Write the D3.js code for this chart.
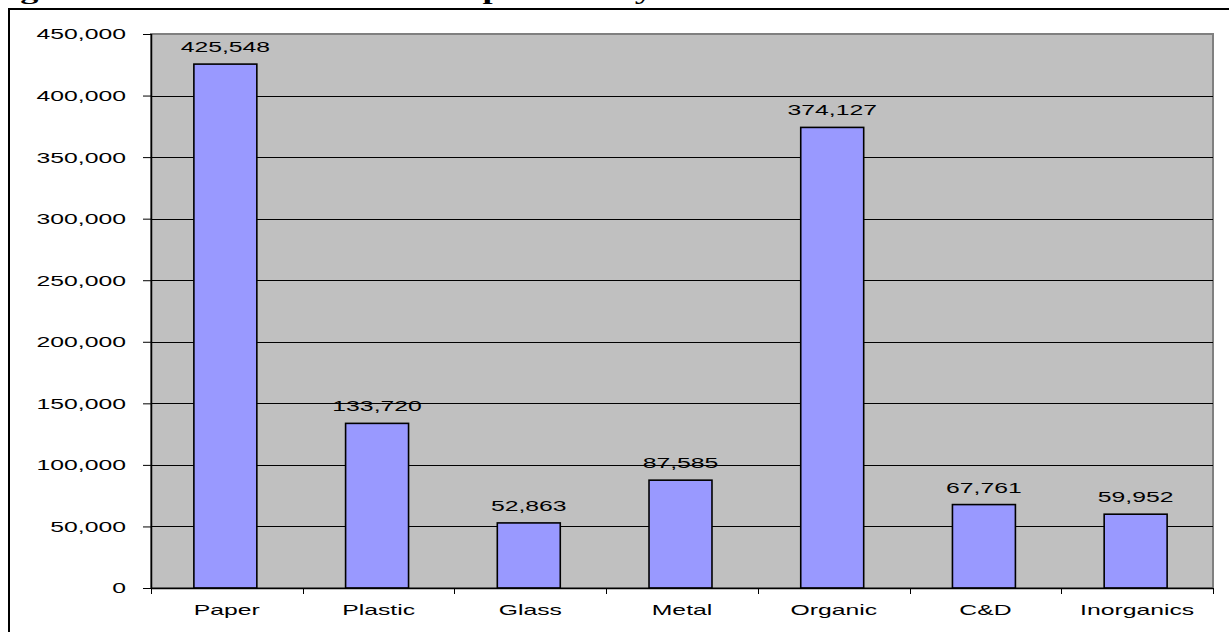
<!DOCTYPE html>
<html>
<head>
<meta charset="utf-8">
<script src="https://cdn.jsdelivr.net/npm/d3@7"></script>
<style>
  html, body { margin: 0; padding: 0; background: #fff; overflow: hidden; }
  svg { display: block; }
</style>
</head>
<body>
<svg id="chart" width="1229" height="632"></svg>
<script>
const categories = ["Paper", "Plastic", "Glass", "Metal", "Organic", "C&D", "Inorganics"];
const values = [425548, 133720, 52863, 87585, 374127, 67761, 59952];
const yTicks = [0, 50000, 100000, 150000, 200000, 250000, 300000, 350000, 400000, 450000];
const titleText = "Figure 4: Estimated Waste Composition by Material";

const W = 1229, H = 632;
const plot = { left: 151, right: 1213, top: 34, bottom: 588 };
const SX = 1.65; // horizontal stretch of the text in the reference
const fontFam = "Arial, 'Liberation Sans', sans-serif";

const svg = d3.select("#chart");

// Title (mostly cut off at top, as in the reference)
svg.append("text")
  .attr("transform", `translate(-12,-1) scale(${SX},1)`)
  .attr("font-family", "'Times New Roman', 'Liberation Serif', serif")
  .attr("font-weight", "bold")
  .attr("font-size", 22)
  .attr("fill", "#000")
  .text(titleText);

// Outer frame (extends off right/bottom)
svg.append("rect")
  .attr("x", 9).attr("y", 9)
  .attr("width", W + 20).attr("height", H + 20)
  .attr("fill", "none").attr("stroke", "#000").attr("stroke-width", 2);

const x = d3.scaleBand().domain(categories).range([plot.left, plot.right]).padding(0);
const y = d3.scaleLinear().domain([0, 450000]).range([plot.bottom, plot.top]);

// Plot background
svg.append("rect")
  .attr("x", plot.left).attr("y", plot.top)
  .attr("width", plot.right - plot.left).attr("height", plot.bottom - plot.top)
  .attr("fill", "#C0C0C0").attr("stroke", "#808080").attr("stroke-width", 2);

// Gridlines
svg.append("g").selectAll("line")
  .data(yTicks.filter(d => d > 0))
  .join("line")
  .attr("x1", plot.left).attr("x2", plot.right)
  .attr("y1", d => Math.round(y(d)) + 0.5).attr("y2", d => Math.round(y(d)) + 0.5)
  .attr("stroke", d => d === 450000 ? "#808080" : "#000")
  .attr("stroke-width", 1);

// Bars
const barFrac = 0.415;
svg.append("g").selectAll("rect")
  .data(categories)
  .join("rect")
  .attr("x", d => x(d) + x.bandwidth() * (1 - barFrac) / 2 - 1.5)
  .attr("width", x.bandwidth() * barFrac)
  .attr("y", (d, i) => y(values[i]))
  .attr("height", (d, i) => y(0) - y(values[i]))
  .attr("fill", "#9999FF")
  .attr("stroke", "#000")
  .attr("stroke-width", 1.6);

// Data labels
svg.append("g").selectAll("text")
  .data(categories)
  .join("text")
  .attr("transform", (d, i) => `translate(${x(d) + x.bandwidth() / 2 - 1.5},${y(values[i]) - 12}) scale(${SX},1)`)
  .attr("text-anchor", "middle")
  .attr("font-family", fontFam)
  .attr("font-size", 15)
  .attr("fill", "#000")
  .text((d, i) => d3.format(",")(values[i]));

// Y axis
const yAxis = svg.append("g")
  .attr("transform", `translate(${plot.left},0)`)
  .call(d3.axisLeft(y).tickValues(yTicks).tickSize(8).tickFormat(d3.format(",")));
yAxis.select(".domain").attr("stroke", "#000").attr("stroke-width", 1.5).attr("d", `M0.5,${plot.top}V${plot.bottom}`);
yAxis.selectAll(".tick line").attr("stroke", "#000");
yAxis.selectAll(".tick text")
  .attr("x", null).attr("dy", "0.33em")
  .attr("transform", `translate(-25,0) scale(${SX},1)`)
  .attr("text-anchor", "end")
  .attr("font-family", fontFam)
  .attr("font-size", 15)
  .attr("fill", "#000");

// X axis
const xAxis = svg.append("g")
  .attr("transform", `translate(0,${plot.bottom})`)
  .call(d3.axisBottom(x).tickSize(0));
xAxis.select(".domain").attr("stroke", "#000").attr("stroke-width", 1.5).attr("d", `M${plot.left},0.5H${plot.right}`);
xAxis.selectAll(".tick text")
  .attr("y", null).attr("dy", null)
  .attr("transform", `translate(0,27) scale(${SX},1)`)
  .attr("font-family", fontFam)
  .attr("font-size", 15)
  .attr("fill", "#000");

// Category boundary ticks
const bounds = categories.map(c => x(c)).concat([x.range()[1]]);
xAxis.append("g").selectAll("line")
  .data(bounds)
  .join("line")
  .attr("x1", d => Math.round(d) + 0.5).attr("x2", d => Math.round(d) + 0.5)
  .attr("y1", 0).attr("y2", 6)
  .attr("stroke", "#000");
</script>
</body>
</html>
